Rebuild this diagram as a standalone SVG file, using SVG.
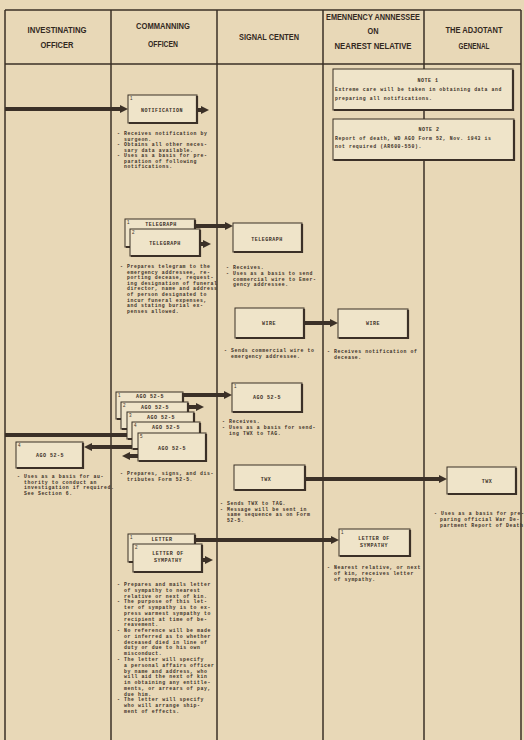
<svg xmlns="http://www.w3.org/2000/svg" width="524" height="740" viewBox="0 0 524 740">
<style>
.bg{fill:#e8d8b7}
.ln{stroke:#3b3027;stroke-width:1.5;fill:none}
.box{fill:#efe4c9;stroke:#3b3027;stroke-width:1}
.sh{fill:none;stroke:#3b3027;stroke-width:2.2}
.arr{stroke:#3b3027;stroke-width:4;fill:none;marker-end:url(#ah)}
.bar{stroke:#3b3027;stroke-width:4;fill:none}
.hd{font-family:"Liberation Sans",Arial,sans-serif;font-weight:bold;font-size:9px;fill:#33291f;text-anchor:middle}
.bt{font-family:"Liberation Mono","DejaVu Sans Mono",monospace;font-weight:bold;font-size:4.8px;letter-spacing:0.6px;fill:#3b3027}
.bl{font-family:"Liberation Mono","DejaVu Sans Mono",monospace;font-weight:bold;font-size:5px;letter-spacing:0.5px;fill:#3b3027;text-anchor:middle}
.num{font-family:"Liberation Sans",Arial,sans-serif;font-size:4.5px;fill:#3b3027}
</style>
<defs>
<marker id="ah" viewBox="0 0 10 10" refX="0" refY="5" markerWidth="2" markerHeight="2.3" orient="auto" markerUnits="strokeWidth">
<path d="M0,0 L10,5 L0,10 Z" fill="#3b3027"/>
</marker>
</defs>
<rect class="bg" x="0" y="0" width="524" height="740"/>

<g id="grid">
<path class="ln" d="M5,10 H521 M5,64 H521 M5,10 V740 M111,10 V740 M217,10 V740 M323,10 V740 M424,10 V740 M521,10 V740"/>
</g>

<g id="headers">
<text class="hd" x="57" y="33" textLength="59" lengthAdjust="spacingAndGlyphs">INVESTINATING</text>
<text class="hd" x="57" y="48" textLength="33" lengthAdjust="spacingAndGlyphs">OFFICER</text>
<text class="hd" x="163" y="29" textLength="54" lengthAdjust="spacingAndGlyphs">COMMANNING</text>
<text class="hd" x="163" y="47" textLength="30" lengthAdjust="spacingAndGlyphs">OFFICEN</text>
<text class="hd" x="269" y="40" textLength="60" lengthAdjust="spacingAndGlyphs">SIGNAL CENTEN</text>
<text class="hd" x="373" y="20" textLength="94" lengthAdjust="spacingAndGlyphs">EMENNENCY ANNNESSEE</text>
<text class="hd" x="373" y="34" textLength="11" lengthAdjust="spacingAndGlyphs">ON</text>
<text class="hd" x="373" y="49" textLength="77" lengthAdjust="spacingAndGlyphs">NEAREST NELATIVE</text>
<text class="hd" x="474" y="33" textLength="57" lengthAdjust="spacingAndGlyphs">THE ADJOTANT</text>
<text class="hd" x="474" y="49" textLength="31" lengthAdjust="spacingAndGlyphs">GENENAL</text>
</g>

<g id="connectors">
<line class="arr" x1="5" y1="109" x2="120" y2="109"/>
<line class="arr" x1="196" y1="110" x2="201" y2="110"/>
<line class="arr" x1="194" y1="226" x2="225" y2="226"/>
<line class="arr" x1="199" y1="244" x2="203" y2="244"/>
<line class="arr" x1="303" y1="323" x2="330" y2="323"/>
<line class="arr" x1="182" y1="395" x2="224" y2="395"/>
<line class="arr" x1="187" y1="407" x2="196" y2="407"/>
<line class="bar" x1="5" y1="435" x2="132" y2="435"/>
<line class="arr" x1="136" y1="447" x2="92" y2="447"/>
<line class="arr" x1="139" y1="456" x2="130" y2="456"/>
<line class="arr" x1="304" y1="479" x2="439" y2="479"/>
<line class="arr" x1="194" y1="540" x2="331" y2="540"/>
<line class="arr" x1="201" y1="560" x2="205" y2="560"/>
</g>

<g id="note1">
<rect class="box" x="333" y="69" width="180" height="41"/>
<path class="sh" d="M513,70 V110 H334"/>
<text class="bl" x="428" y="82">NOTE 1</text>
<text class="bt" x="335" y="91">Extreme care will be taken in obtaining data and</text>
<text class="bt" x="335" y="100">preparing all notifications.</text>
</g>

<g id="note2">
<rect class="box" x="333" y="119" width="181" height="41"/>
<path class="sh" d="M514,120 V160 H334"/>
<text class="bl" x="429" y="131">NOTE 2</text>
<text class="bt" x="335" y="140">Report of death, WD AGO Form 52, Nov. 1943 is</text>
<text class="bt" x="335" y="148">not required (AR600-550).</text>
</g>

<g id="notification">
<rect class="box" x="128" y="95" width="69" height="28"/>
<path class="sh" d="M197,96 V123 H129"/>
<text class="num" x="130" y="100">1</text>
<text class="bl" x="162" y="112">NOTIFICATION</text>
<text class="bt" x="117" y="135"><tspan x="117">- Receives notification by</tspan><tspan x="124" dy="5.5">surgeon.</tspan><tspan x="117" dy="5.5">- Obtains all other neces-</tspan><tspan x="124" dy="5.5">sary data available.</tspan><tspan x="117" dy="5.5">- Uses as a basis for pre-</tspan><tspan x="124" dy="5.5">paration of following</tspan><tspan x="124" dy="5.5">notifications.</tspan></text>
</g>

<g id="telegraph-co">
<rect class="box" x="125" y="219" width="70" height="28"/>
<path class="sh" d="M195,220 V247 H126"/>
<text class="num" x="127" y="224">1</text>
<text class="bl" x="161" y="226">TELEGRAPH</text>
<rect class="box" x="130" y="229" width="70" height="27"/>
<path class="sh" d="M200,230 V256 H131"/>
<text class="num" x="132" y="234">2</text>
<text class="bl" x="165" y="245">TELEGRAPH</text>
<text class="bt" x="120" y="268"><tspan x="120">- Prepares telegram to the</tspan><tspan x="127" dy="5.6">emergency addressee, re-</tspan><tspan x="127" dy="5.6">porting decease, request-</tspan><tspan x="127" dy="5.6">ing designation of funeral</tspan><tspan x="127" dy="5.6">director, name and address</tspan><tspan x="127" dy="5.6">of person designated to</tspan><tspan x="127" dy="5.6">incur funeral expenses,</tspan><tspan x="127" dy="5.6">and stating burial ex-</tspan><tspan x="127" dy="5.6">penses allowed.</tspan></text>
</g>

<g id="telegraph-sc">
<rect class="box" x="233" y="223" width="69" height="29"/>
<path class="sh" d="M302,224 V252 H234"/>
<text class="bl" x="267" y="241">TELEGRAPH</text>
<text class="bt" x="226" y="269"><tspan x="226">- Receives.</tspan><tspan x="226" dy="5.8">- Uses as a basis to send</tspan><tspan x="233" dy="5.8">commercial wire to Emer-</tspan><tspan x="233" dy="5.8">gency addressee.</tspan></text>
</g>

<g id="wire-sc">
<rect class="box" x="235" y="308" width="69" height="30"/>
<path class="sh" d="M304,309 V338 H236"/>
<text class="bl" x="269" y="325">WIRE</text>
<text class="bt" x="224" y="352"><tspan x="224">- Sends commercial wire to</tspan><tspan x="231" dy="6">emergency addressee.</tspan></text>
</g>

<g id="wire-nr">
<rect class="box" x="338" y="309" width="70" height="29"/>
<path class="sh" d="M408,310 V338 H339"/>
<text class="bl" x="373" y="325">WIRE</text>
<text class="bt" x="327" y="353"><tspan x="327">- Receives notification of</tspan><tspan x="334" dy="6">decease.</tspan></text>
</g>

<g id="ago-co">
<rect class="box" x="116" y="392" width="67" height="27"/>
<path class="sh" d="M183,393 V419 H117"/>
<text class="num" x="118" y="397">1</text>
<text class="bl" x="150" y="398">AGO 52-5</text>
<rect class="box" x="121" y="402" width="67" height="27"/>
<path class="sh" d="M188,403 V429 H122"/>
<text class="num" x="123" y="407">2</text>
<text class="bl" x="155" y="409">AGO 52-5</text>
<rect class="box" x="127" y="412" width="67" height="27"/>
<path class="sh" d="M194,413 V439 H128"/>
<text class="num" x="129" y="417">3</text>
<text class="bl" x="161" y="419">AGO 52-5</text>
<rect class="box" x="132" y="422" width="68" height="27"/>
<path class="sh" d="M200,423 V449 H133"/>
<text class="num" x="134" y="427">4</text>
<text class="bl" x="166" y="429">AGO 52-5</text>
<rect class="box" x="138" y="433" width="68" height="28"/>
<path class="sh" d="M206,434 V461 H139"/>
<text class="num" x="140" y="438">5</text>
<text class="bl" x="172" y="450">AGO 52-5</text>
<text class="bt" x="120" y="475"><tspan x="120">- Prepares, signs, and dis-</tspan><tspan x="127" dy="6">tributes Form 52-5.</tspan></text>
</g>

<g id="ago-io">
<rect class="box" x="16" y="442" width="67" height="26"/>
<path class="sh" d="M83,443 V468 H17"/>
<text class="num" x="18" y="447">4</text>
<text class="bl" x="50" y="457">AGO 52-5</text>
<text class="bt" x="17" y="478"><tspan x="17">- Uses as a basis for au-</tspan><tspan x="24" dy="5.6">thority to conduct an</tspan><tspan x="24" dy="5.6">investigation if required.</tspan><tspan x="24" dy="5.6">See Section 6.</tspan></text>
</g>

<g id="ago-sc">
<rect class="box" x="232" y="383" width="70" height="29"/>
<path class="sh" d="M302,384 V412 H233"/>
<text class="num" x="234" y="388">1</text>
<text class="bl" x="267" y="399">AGO 52-5</text>
<text class="bt" x="222" y="423"><tspan x="222">- Receives.</tspan><tspan x="222" dy="6">- Uses as a basis for send-</tspan><tspan x="229" dy="6">ing TWX to TAG.</tspan></text>
</g>

<g id="twx-sc">
<rect class="box" x="234" y="465" width="71" height="25"/>
<path class="sh" d="M305,466 V490 H235"/>
<text class="bl" x="266" y="481">TWX</text>
<text class="bt" x="220" y="505"><tspan x="220">- Sends TWX to TAG.</tspan><tspan x="220" dy="5.7">- Message will be sent in</tspan><tspan x="227" dy="5.7">same sequence as on Form</tspan><tspan x="227" dy="5.7">52-5.</tspan></text>
</g>

<g id="twx-tag">
<rect class="box" x="447" y="467" width="69" height="27"/>
<path class="sh" d="M516,468 V494 H448"/>
<text class="bl" x="487" y="483">TWX</text>
<text class="bt" x="434" y="515"><tspan x="434">- Uses as a basis for pre-</tspan><tspan x="440" dy="6">paring official War De-</tspan><tspan x="440" dy="6">partment Report of Death</tspan></text>
</g>

<g id="letter-co">
<rect class="box" x="128" y="534" width="67" height="28"/>
<path class="sh" d="M195,535 V562 H129"/>
<text class="num" x="130" y="539">1</text>
<text class="bl" x="162" y="541">LETTER</text>
<rect class="box" x="133" y="544" width="69" height="28"/>
<path class="sh" d="M202,545 V572 H134"/>
<text class="num" x="135" y="549">2</text>
<text class="bl" x="168" y="555">LETTER OF</text>
<text class="bl" x="168" y="562">SYMPATHY</text>
<text class="bt" x="117" y="586"><tspan x="117">- Prepares and mails letter</tspan><tspan x="124" dy="5.77">of sympathy to nearest</tspan><tspan x="124" dy="5.77">relative or next of kin.</tspan><tspan x="117" dy="5.77">- The purpose of this let-</tspan><tspan x="124" dy="5.77">ter of sympathy is to ex-</tspan><tspan x="124" dy="5.77">press warmest sympathy to</tspan><tspan x="124" dy="5.77">recipient at time of be-</tspan><tspan x="124" dy="5.77">reavement.</tspan><tspan x="117" dy="5.77">- No reference will be made</tspan><tspan x="124" dy="5.77">or inferred as to whether</tspan><tspan x="124" dy="5.77">deceased died in line of</tspan><tspan x="124" dy="5.77">duty or due to his own</tspan><tspan x="124" dy="5.77">misconduct.</tspan><tspan x="117" dy="5.77">- The letter will specify</tspan><tspan x="124" dy="5.77">a personal affairs officer</tspan><tspan x="124" dy="5.77">by name and address, who</tspan><tspan x="124" dy="5.77">will aid the next of kin</tspan><tspan x="124" dy="5.77">in obtaining any entitle-</tspan><tspan x="124" dy="5.77">ments, or arrears of pay,</tspan><tspan x="124" dy="5.77">due him.</tspan><tspan x="117" dy="5.77">- The letter will specify</tspan><tspan x="124" dy="5.77">who will arrange ship-</tspan><tspan x="124" dy="5.77">ment of effects.</tspan></text>
</g>

<g id="letter-nr">
<rect class="box" x="339" y="529" width="71" height="27"/>
<path class="sh" d="M410,530 V556 H340"/>
<text class="num" x="341" y="534">1</text>
<text class="bl" x="374" y="540">LETTER OF</text>
<text class="bl" x="374" y="547">SYMPATHY</text>
<text class="bt" x="327" y="569"><tspan x="327">- Nearest relative, or next</tspan><tspan x="334" dy="6">of kin, receives letter</tspan><tspan x="334" dy="6">of sympathy.</tspan></text>
</g>
</svg>
